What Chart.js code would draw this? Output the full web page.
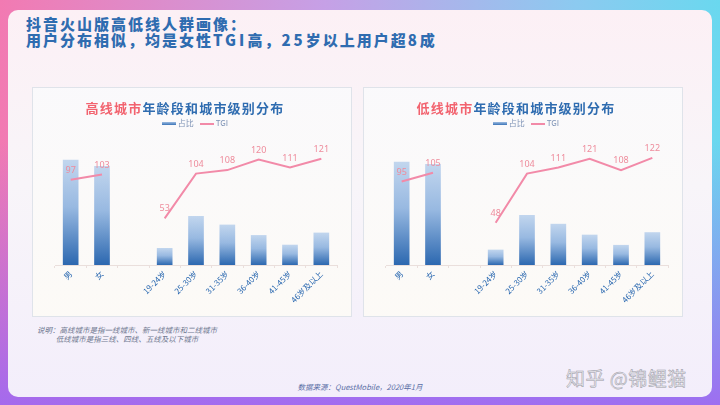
<!DOCTYPE html>
<html>
<head>
<meta charset="utf-8">
<script src="https://cdn.jsdelivr.net/npm/chart.js@4/dist/chart.umd.min.js"></script>
<style>
  html, body { margin:0; padding:0; }
  body {
    width:720px; height:405px; overflow:hidden; position:relative;
    font-family:"Noto Sans CJK SC","Noto Sans",sans-serif;
    background:
      linear-gradient(to bottom, rgba(150,100,240,0) 35%, rgba(160,105,240,0.95) 100%),
      linear-gradient(to right, #f27ab2 0%, #c6a0e6 45%, #8ccaf0 80%, #6ad8ef 100%);
  }
  .card {
    position:absolute; left:8px; top:10px; width:704px; height:387px; border-radius:10px;
    background:linear-gradient(180deg, #fcf0f5 0%, #f8f5f9 45%, #f3eefb 100%);
  }
  .title {
    position:absolute; left:26px; top:16px; color:#2f6cb0; font-weight:900;
    font-size:15px; line-height:15.5px; letter-spacing:2px;
  }
  .title b { letter-spacing:3px; }
  .panel {
    position:absolute; top:87px; width:320px; height:230px; box-sizing:border-box;
    border:1px solid #dfe3ea;
    background:linear-gradient(180deg, rgba(250,250,252,0.9), rgba(253,251,246,0.9));
  }
  .panel canvas { position:absolute; left:0; top:0; }
  .ctitle {
    position:absolute; top:10px; left:0; right:14px; text-align:center; font-weight:bold;
    font-size:13px; letter-spacing:1.2px; color:#2f6cb0;
  }
  .ctitle span { color:#f2636f; }
  .legend {
    position:absolute; top:29px; width:100%; text-align:center; font-size:8px; color:#7e93b6;
  }
  .legend i { display:inline-block; width:14px; vertical-align:middle; margin:0 2px 0 6px; }
  .legend .b { height:3px; background:linear-gradient(#9dbbe0,#3a74b8); }
  .legend .l { height:1.5px; background:#f28aa8; }
  .note {
    position:absolute; left:37px; top:325px; font-size:7.5px; line-height:9px;
    font-style:italic; color:#6f7890;
  }
  .src {
    position:absolute; left:0; width:720px; top:381px; text-align:center;
    font-size:7.5px; font-style:italic; color:#5b6fa6;
  }
  .wm {
    position:absolute; left:566px; top:364px; font-size:19px; color:#ecebf0;
    -webkit-text-stroke:0.5px #9a9aa6; letter-spacing:0.5px;
  }
</style>
</head>
<body>
<div class="card"></div>
<div class="title">抖音火山版高低线人群画像：<br>用户分布相似，均是女性<b>TGI</b>高，<b>25</b>岁以上用户超<b>8</b>成</div>

<div class="panel" style="left:32px">
  <canvas id="cHigh" width="320" height="230"></canvas>
  <div class="ctitle"><span>高线城市</span>年龄段和城市级别分布</div>
  <div class="legend"><i class="b"></i>占比<i class="l"></i>TGI</div>
</div>
<div class="panel" style="left:363px">
  <canvas id="cLow" width="320" height="230"></canvas>
  <div class="ctitle"><span>低线城市</span>年龄段和城市级别分布</div>
  <div class="legend"><i class="b"></i>占比<i class="l"></i>TGI</div>
</div>

<div class="note">说明：高线城市是指一线城市、新一线城市和二线城市<br>&emsp;&emsp;&ensp;低线城市是指三线、四线、五线及以下城市</div>
<div class="src">数据来源：QuestMobile，2020年1月</div>
<div class="wm">知乎 @锦鲤猫</div>

<script>
// categories (blank slot separates gender and age groups)
const labels = ['男', '女', '', '19-24岁', '25-30岁', '31-35岁', '36-40岁', '41-45岁', '46岁及以上'];

// 占比 (%)
const highShare = [51.4, 48.3, null, 8.3, 23.9, 19.7, 14.6, 9.9, 15.8];
const lowShare  = [50.4, 49.3, null, 7.5, 24.4, 20.1, 14.8, 9.8, 16.0];

// TGI
const highTGI = [97, 103, null, 53, 104, 108, 120, 111, 121];
const lowTGI  = [95, 105, null, 48, 104, 111, 121, 108, 122];

const pink = '#f28aa8';

// TGI value labels above the line
const tgiLabels = {
  id: 'tgiLabels',
  afterDatasetsDraw(chart) {
    const ctx = chart.ctx;
    const meta = chart.getDatasetMeta(1);
    ctx.save();
    ctx.font = '9px "Noto Sans", sans-serif';
    ctx.fillStyle = '#ee8c9c';
    ctx.textAlign = 'center';
    ctx.textBaseline = 'bottom';
    meta.data.forEach((pt, i) => {
      const v = chart.data.datasets[1].data[i];
      if (v == null) return;
      ctx.fillText(v, pt.x, pt.y - 5);
    });
    ctx.restore();
  }
};

function barFill(c) {
  const chart = c.chart;
  const y = chart.scales.y;
  if (!y || c.raw == null) return '#7aa3d4';
  const top = y.getPixelForValue(c.raw);
  const base = y.getPixelForValue(0);
  if (!isFinite(top) || !isFinite(base) || top === base) return '#7aa3d4';
  const g = chart.ctx.createLinearGradient(0, top, 0, base);
  g.addColorStop(0, '#c2d6ee');
  g.addColorStop(0.45, '#98b9e1');
  g.addColorStop(1, '#2c68b0');
  return g;
}

function makeChart(id, share, tgi) {
  new Chart(document.getElementById(id), {
    data: {
      labels: labels,
      datasets: [
        {
          type: 'bar', label: '占比', data: share, yAxisID: 'y', order: 1,
          backgroundColor: barFill, categoryPercentage: 1, barPercentage: 0.5
        },
        {
          type: 'line', label: 'TGI', data: tgi, yAxisID: 'y1', order: 0,
          borderColor: pink, borderWidth: 2, pointRadius: 0, tension: 0, spanGaps: false, fill: false
        }
      ]
    },
    options: {
      responsive: false,
      animation: false,
      layout: { padding: { left: 22, right: 16, top: 54, bottom: 0 } },
      plugins: { legend: { display: false }, tooltip: { enabled: false } },
      scales: {
        x: {
          grid: { display: true, drawOnChartArea: false, drawTicks: true, tickLength: 3, color: '#eadfdc' },
          border: { display: true, color: '#eadfdc' },
          ticks: { color: '#2a68b0', font: { size: 8, family: '"Noto Sans CJK SC", sans-serif' }, minRotation: 45, maxRotation: 45, padding: 1, autoSkip: false },
          afterFit(s) { s.height = 53; }
        },
        y: { display: false, min: 0, max: 60 },
        y1: { display: false, min: 0, max: 140 }
      }
    },
    plugins: [tgiLabels]
  });
}

makeChart('cHigh', highShare, highTGI);
makeChart('cLow', lowShare, lowTGI);
</script>
</body>
</html>
